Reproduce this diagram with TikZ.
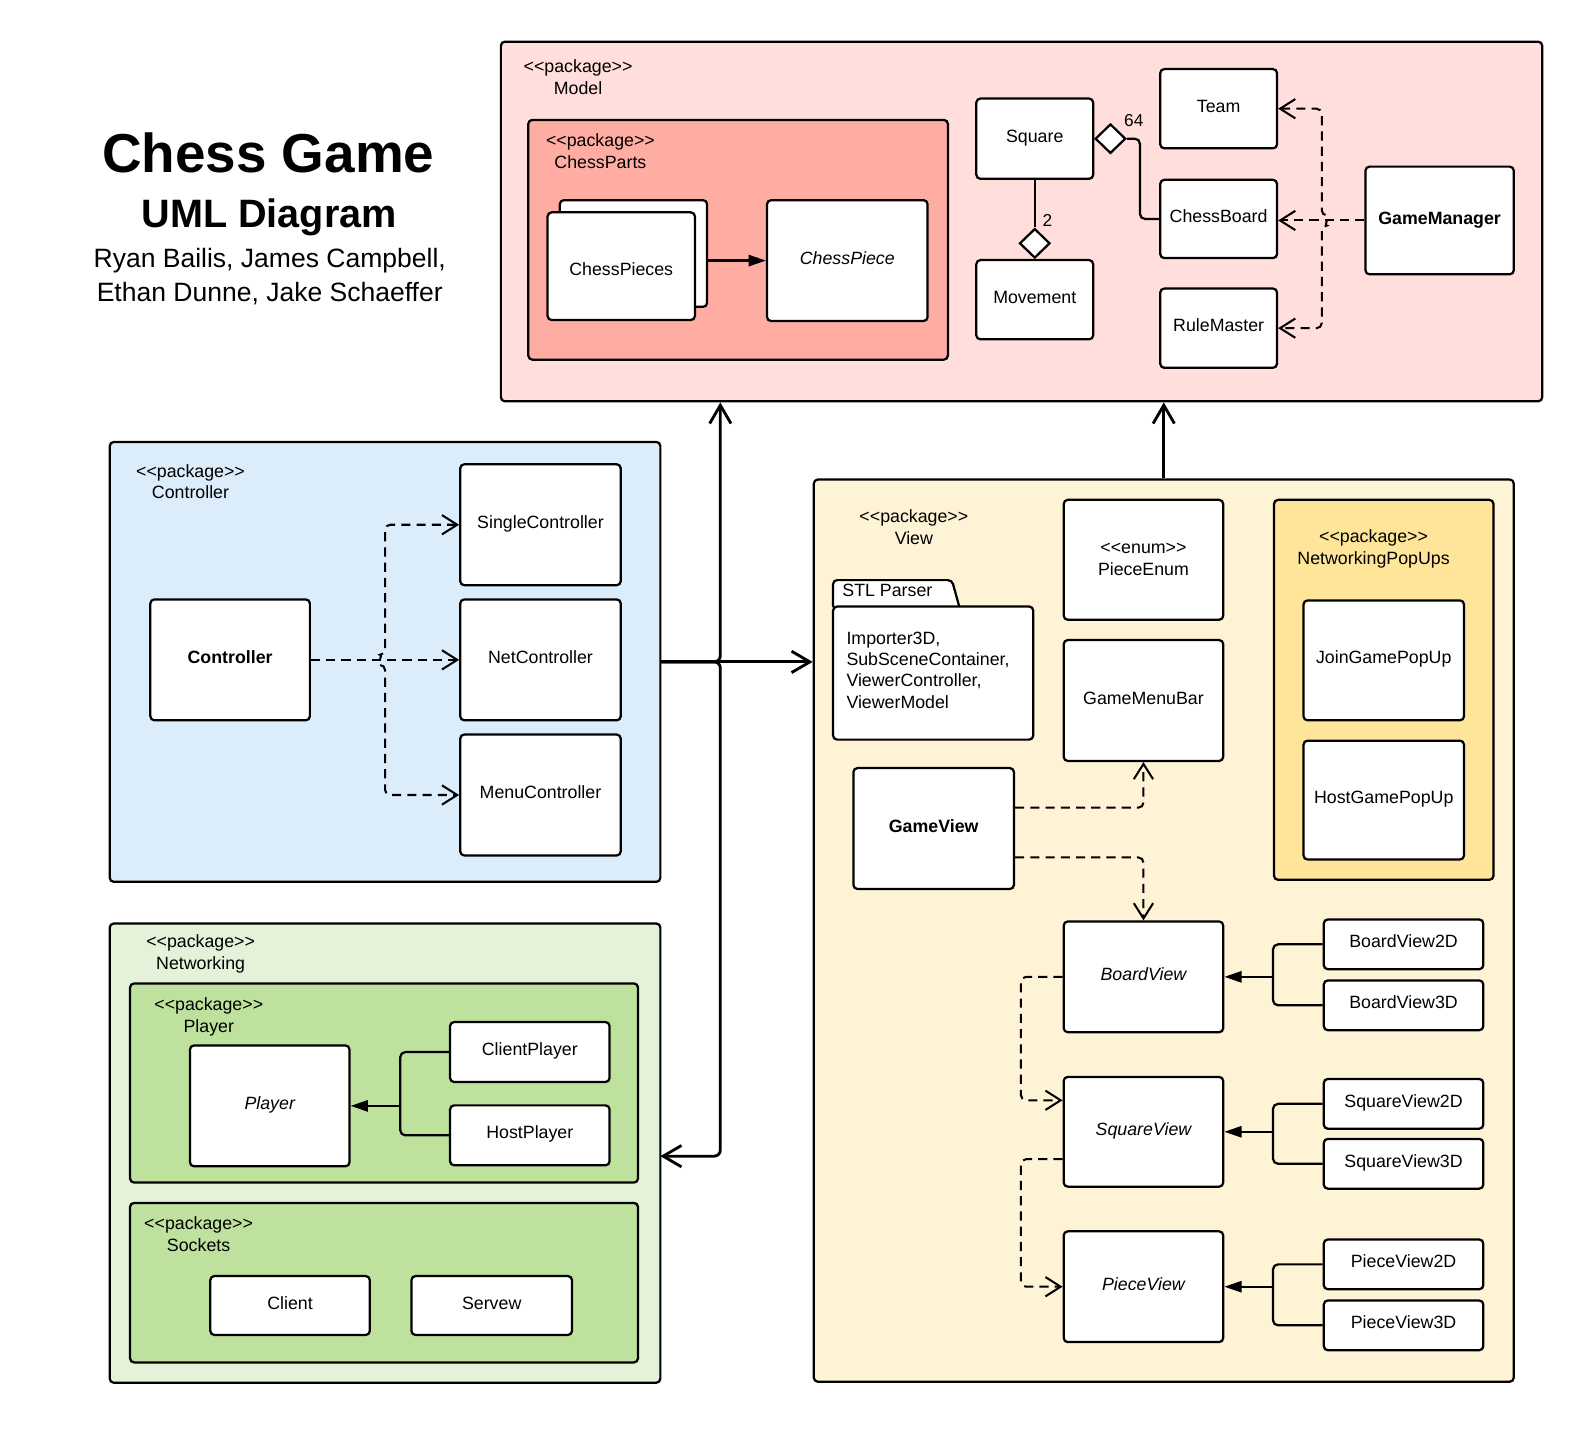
\documentclass[tikz,border=0pt]{standalone}
\usepackage{fontspec}
\setmainfont{Liberation Sans}[Ligatures=TeXOff]
\usetikzlibrary{arrows.meta,shapes.geometric,calc}
\definecolor{cModel}{RGB}{255,222,219}
\definecolor{cParts}{RGB}{255,173,162}
\definecolor{cCtrl}{RGB}{219,236,250}
\definecolor{cNet}{RGB}{227,242,216}
\definecolor{cPlayer}{RGB}{190,226,158}
\definecolor{cView}{RGB}{255,243,213}
\definecolor{cPop}{RGB}{255,229,153}
\newcommand\ufs{\fontsize{17.5}{21.5}\selectfont}
\newcommand\uStereo[1]{\textless\textless #1\textgreater\textgreater}
\newcommand\ptab[1]{\begin{tabular}{@{}c@{}}\uStereo{package}\\#1\end{tabular}}
\newcommand\ubox[7][]{\node[box,#1,minimum width={#5pt-#3pt},minimum height={#6pt-#4pt}] (#2) at ({(#3+#5)/2},{(#4+#6)/2}) {#7};}
\begin{document}
\begin{tikzpicture}[x=1pt,y=-1pt,
  every node/.style={font=\ufs},
  box/.style={draw, fill=white, rounded corners=4pt, line width=2.2pt, inner sep=0pt},
  one/.style={text height=12pt, text depth=5pt},
  plabel/.style={inner sep=0pt},
  sline/.style={line width=2.2pt},
  dep/.style={line width=2pt, dash pattern=on 9pt off 6pt, rounded corners=5pt},
  deparr/.style={dep, -{Straight Barb[length=15pt,width=19pt]}},
  depboth/.style={dep, {Straight Barb[length=15pt,width=19pt]}-{Straight Barb[length=15pt,width=19pt]}},
  pkgarr/.style={line width=2.8pt, rounded corners=6pt, -{Straight Barb[length=18pt,width=21pt]}},
  genarr/.style={line width=2.2pt, -{Triangle[length=17pt,width=11pt]}},
  brace/.style={line width=2.2pt, rounded corners=5pt},
  agg/.style={diamond, draw, fill=white, line width=2.2pt, inner sep=0pt, minimum width=30pt, minimum height=29pt}
]
\useasboundingbox (0,0) rectangle (1567,1406.5);

% ---------- title ----------
\node[anchor=base, font=\fontsize{54}{60}\selectfont\bfseries] (title) at (264,170) {Chess Game};
\node[anchor=base, font=\fontsize{39}{46}\selectfont\bfseries] (subtitle) at (265,224) {UML Diagram};
\node[anchor=base, font=\fontsize{26.1}{30}\selectfont] (auth1) at (265.5,263) {Ryan Bailis, James Campbell,};
\node[anchor=base, font=\fontsize{26.1}{30}\selectfont] (auth2) at (265.5,297) {Ethan Dunne, Jake Schaeffer};

% ---------- packages ----------
\ubox[fill=cModel]{modelpkg}{493}{41}{1518}{395}{}
\ubox[fill=cParts]{partspkg}{520}{118}{933}{354}{}
\ubox[fill=cCtrl]{ctrlpkg}{108}{435}{650}{868}{}
\ubox[fill=cNet]{netpkg}{108}{909}{650}{1361}{}
\ubox[fill=cPlayer]{playerpkg}{128}{968}{628}{1164}{}
\ubox[fill=cPlayer]{sockpkg}{128}{1184}{628}{1341}{}
\ubox[fill=cView]{viewpkg}{801}{472}{1490}{1360}{}
\ubox[fill=cPop]{poppkg}{1254}{492}{1470}{866}{}

\node[plabel] (modellbl) at (569,78) {\ptab{Model}};
\node[plabel] (partslbl) at (591,150.5) {\ptab{ChessParts}};
\node[plabel] (ctrllbl) at (187.5,476) {\ptab{Controller}};
\node[plabel] (netlbl) at (197.5,939.5) {\ptab{Networking}};
\node[plabel] (playerlbl) at (205.5,1001) {\ptab{Player}};
\node[plabel] (socklbl) at (195.5,1217) {\ptab{Sockets}};
\node[plabel] (viewlbl) at (899.5,521) {\ptab{View}};
\node[plabel] (poplbl) at (1352,540.5) {\ptab{NetworkingPopUps}};

% ---------- Model ----------
\ubox{cpback}{551}{197}{696}{302}{}
\ubox[text height=22pt, text depth=3pt]{cpfront}{539}{209}{684}{315}{ChessPieces}
\ubox[one,font=\ufs\itshape]{chesspiece}{755}{197}{913}{316}{ChessPiece}
\ubox[one]{square}{961}{97}{1076}{176}{Square}
\ubox[one]{movement}{961}{256}{1076}{334}{Movement}
\ubox[one]{team}{1142}{68}{1257}{146}{Team}
\ubox[one]{chessboard}{1142}{177}{1257}{254}{ChessBoard}
\ubox[one]{rulemaster}{1142}{284}{1257}{362}{RuleMaster}
\ubox[one,font=\ufs\bfseries]{gm}{1344}{164}{1490}{270}{GameManager}
\node[agg] (dsq) at (1093,136.5) {};
\node[agg] (dmv) at (1018.5,239.5) {};
\node[font=\fontsize{17}{20}\selectfont] (m64) at (1116,119) {64};
\node[font=\fontsize{17}{20}\selectfont] (m2) at (1031,217) {2};

% ---------- Controller ----------
\ubox[one,font=\ufs\bfseries]{controller}{148}{590}{305}{709}{Controller}
\ubox[one]{singlectrl}{453}{457}{611}{576}{SingleController}
\ubox[one]{netctrl}{453}{590}{611}{709}{NetController}
\ubox[one]{menuctrl}{453}{723}{611}{842}{MenuController}

% ---------- Networking ----------
\ubox[one,font=\ufs\itshape]{player}{187}{1029}{344}{1148}{Player}
\ubox[one]{clientplayer}{443}{1006}{600}{1065}{ClientPlayer}
\ubox[one]{hostplayer}{443}{1088}{600}{1147}{HostPlayer}
\ubox[one]{client}{207}{1256}{364}{1314}{Client}
\ubox[one]{servew}{405}{1256}{563}{1314}{Servew}

% ---------- View ----------
\draw[line width=2.2pt, fill=white, rounded corners=4pt] (820,600) -- (820,571) -- (937,571) -- (945,600) -- cycle;
\node[anchor=base west, inner sep=0pt] (stltab) at (829,587) {STL Parser};
\ubox{stlbody}{820}{597}{1017}{728}{}
\node[anchor=north west, inner sep=0pt, font=\fontsize{17.5}{21}\selectfont] (stltext) at (833,619)
  {\begin{tabular}{@{}l@{}}Importer3D,\\SubSceneContainer,\\ViewerController,\\ViewerModel\end{tabular}};
\ubox{pieceenum}{1047}{492}{1204}{610}{\begin{tabular}{@{}c@{}}\uStereo{enum}\\PieceEnum\end{tabular}}
\ubox[one]{gamemenubar}{1047}{630}{1204}{749}{GameMenuBar}
\ubox[one,font=\ufs\bfseries]{gameview}{840}{756}{998}{875}{GameView}
\ubox[one]{joinpop}{1283}{591}{1441}{709}{JoinGamePopUp}
\ubox[one]{hostpop}{1283}{729}{1441}{846}{HostGamePopUp}
\ubox[one,font=\ufs\itshape]{boardview}{1047}{907}{1204}{1016}{BoardView}
\ubox[one,font=\ufs\itshape]{squareview}{1047}{1060}{1204}{1168}{SquareView}
\ubox[one,font=\ufs\itshape]{pieceview}{1047}{1212}{1204}{1321}{PieceView}
\ubox[one]{bv2d}{1303}{905}{1460}{954}{BoardView2D}
\ubox[one]{bv3d}{1303}{965}{1460}{1014}{BoardView3D}
\ubox[one]{sv2d}{1303}{1062}{1460}{1111}{SquareView2D}
\ubox[one]{sv3d}{1303}{1121}{1460}{1170}{SquareView3D}
\ubox[one]{pv2d}{1303}{1220}{1460}{1269}{PieceView2D}
\ubox[one]{pv3d}{1303}{1280}{1460}{1329}{PieceView3D}

% ---------- connectors: Model ----------
\draw[genarr] (cpback.east |- chesspiece.west) -- (chesspiece.west);
\draw[sline] (square.south) -- (dmv.north);
\coordinate (jsq) at (1122,0);
\draw[sline, rounded corners=5pt] (dsq.east) -| (jsq |- chessboard.west) -- (chessboard.west);
\coordinate (jgm) at (1301,0);
\draw[deparr] (gm.west) -- (gm.west -| chessboard.east);
\draw[depboth] (team.east) -- (team.east -| jgm) -- ($(jgm |- gm.west)+(0,-5)$)
  arc[start angle=-90, end angle=90, radius=5] -- (jgm |- rulemaster.east) -- (rulemaster.east);

% ---------- connectors: Controller ----------
\coordinate (jct) at (379,0);
\draw[deparr] (controller.east) -- (netctrl.west);
\draw[depboth] (singlectrl.west) -- (singlectrl.west -| jct) -- ($(jct |- controller.east)+(0,-5)$)
  arc[start angle=-90, end angle=-270, radius=5] -- (jct |- menuctrl.west) -- (menuctrl.west);

% ---------- connectors: Networking ----------
\coordinate (jpl) at (394,0);
\draw[brace] (clientplayer.west) -| (jpl |- hostplayer.west) -- (hostplayer.west);
\draw[genarr] (jpl |- player.east) -- (player.east);

% ---------- connectors: View ----------
\draw[deparr] ($(gameview.east)+(0,-20.5)$) -| (gamemenubar.south);
\draw[deparr] ($(gameview.east)+(0,28.5)$) -| (boardview.north);
\draw[deparr] (boardview.west) -| ($(squareview.west)+(-41,-31)$) -- ($(squareview.west)+(0,-31)$);
\draw[deparr] ($(squareview.west)+(0,27)$) -| ($(pieceview.west)+(-41,0)$) -- (pieceview.west);
\coordinate (jgv) at (1253,0);
\draw[brace] (bv2d.west) -| (jgv |- bv3d.west) -- (bv3d.west);
\draw[genarr] (jgv |- boardview.east) -- (boardview.east);
\draw[brace] (sv2d.west) -| (jgv |- sv3d.west) -- (sv3d.west);
\draw[genarr] (jgv |- squareview.east) -- (squareview.east);
\draw[brace] (pv2d.west) -| (jgv |- pv3d.west) -- (pv3d.west);
\draw[genarr] (jgv |- pieceview.east) -- (pieceview.east);

% ---------- package connectors ----------
\coordinate (bus) at (709,0);
\coordinate (netin) at (650,1138);
\draw[pkgarr] (ctrlpkg.east) -| (bus |- modelpkg.south);
\draw[pkgarr] (ctrlpkg.east) -| (bus |- netin) -- (netin);
\draw[pkgarr] (ctrlpkg.east) -- (ctrlpkg.east -| viewpkg.west);
\draw[pkgarr] (viewpkg.north) -- (viewpkg.north |- modelpkg.south);
\end{tikzpicture}
\end{document}
